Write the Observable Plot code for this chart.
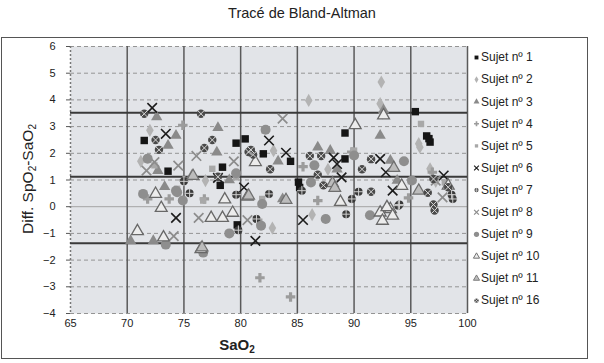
<!DOCTYPE html>
<html><head><meta charset="utf-8">
<script src="https://cdn.jsdelivr.net/npm/d3@7"></script>
<script src="https://cdn.jsdelivr.net/npm/@observablehq/plot@0.6"></script>
<style>
body{margin:0;background:#fff;font-family:"Liberation Sans",Arial,sans-serif;color:#222}
#wrap{position:relative;width:604px;height:363px;overflow:hidden}
#wrap svg{position:absolute;left:0;top:0}
.abs{position:absolute;white-space:nowrap}
#box{left:1px;top:37px;width:585px;height:320px;border:1.5px solid #555}
#title{left:0;width:604px;top:5px;text-align:center;font-size:14.5px}
#ylab{left:28px;top:179px;transform:translate(-50%,-50%) rotate(-90deg);font-size:15.5px}
#xlab{left:237px;top:345px;transform:translate(-50%,-50%);font-size:15px;font-weight:bold}
sub{font-size:10px;vertical-align:-3px}
</style></head>
<body><div id="wrap">
<div id="box" class="abs"></div>
<div id="title" class="abs">Tracé de Bland-Altman</div>
<div id="ylab" class="abs">Diff. SpO<sub>2</sub>-SaO<sub>2</sub></div>
<div id="xlab" class="abs">SaO<sub>2</sub></div>
</div>
<script>
const subjects = ["Sujet nº 1","Sujet nº 2","Sujet nº 3","Sujet nº 4","Sujet nº 5","Sujet nº 6","Sujet nº 7","Sujet nº 8","Sujet nº 9","Sujet nº 10","Sujet nº 11","Sujet nº 16"];
const xTicks = [65,70,75,80,85,90,95,100];
const yTicks = [-4,-3,-2,-1,0,1,2,3,4,5,6];
const meanDiff = 1.12, upperLoA = 3.52, lowerLoA = -1.37;

const sujet1 = [[71.5,2.48],[73.6,1.33],[78.4,1.48],[78.2,0.8],[79.6,2.38],[80.4,2.54],[82.0,1.98],[84.4,1.7],[85.1,0.92],[85.2,0.72],[79.7,-0.68],[89.2,2.76],[89.2,1.79],[95.4,3.56],[96.4,2.65],[96.7,2.42],[96.6,2.55]];
const sujet2 = [[72.0,2.86],[71.2,1.7],[86.0,3.98],[92.4,4.67],[92.3,3.86],[95.7,2.36],[95.8,2.23],[82.9,2.1],[76.9,0.98],[87.7,1.4],[96.7,1.42],[86.3,-0.3],[82.8,-0.8],[97.2,0.95],[92.5,3.5]];
const sujet3 = [[72.6,3.36],[73.6,2.29],[74.3,2.67],[78.0,2.96],[77.9,2.04],[72.7,1.35],[73.3,0.75],[86.8,2.23],[87.9,2.1],[92.3,2.67],[93.2,1.73],[75.7,1.17],[83.3,1.7],[88.5,1.4],[93.8,0.98],[70.3,-1.28],[72.3,-1.28],[83.7,0.29],[79.0,1.0],[92.6,3.62]];
const sujet4 = [[74.9,3.05],[71.8,0.29],[73.7,0.29],[76.8,0.29],[75.0,0.98],[85.5,1.5],[86.8,0.23],[81.5,-0.5],[81.7,-2.66],[84.4,-3.38],[94.8,0.33],[89.8,2.05],[96.9,1.29]];
const sujet5 = [[72.4,1.55],[77.5,1.42],[82.1,2.86],[86.5,1.5],[79.6,1.1],[81.9,0.29],[81.8,0.1],[87.5,-0.43],[95.9,3.1],[95.0,0.95],[74.4,0.67],[90.0,2.1],[98.0,0.91],[76.7,0.23]];
const sujet6 = [[72.2,3.7],[73.4,2.73],[74.3,-0.42],[82.5,2.48],[80.3,0.72],[78.0,1.08],[84.0,2.02],[88.2,1.84],[88.5,1.6],[88.9,1.1],[92.3,1.79],[92.8,1.29],[93.4,0.6],[85.5,-0.5],[81.3,-1.28],[97.9,1.17]];
const sujet7 = [[75.5,0.5],[79.6,0.45],[79.8,-0.88],[82.5,0.48],[85.4,0.6],[89.3,-0.28],[89.8,0.29],[90.4,0.56],[94.0,0.08],[98.6,0.45],[98.7,0.29],[81.4,-0.46],[93.9,0.04],[75.0,0.95]];
const sujet8 = [[72.4,1.67],[74.5,1.54],[74.1,-1.1],[76.1,1.9],[79.4,1.7],[76.3,-0.42],[80.6,-0.5],[83.7,3.3],[97.8,0.35],[97.2,0.98],[71.7,1.35]];
const sujet9 = [[71.4,0.48],[74.3,0.6],[74.4,0.54],[74.9,0.23],[73.4,-1.42],[76.7,-1.72],[79.0,-1.0],[79.6,1.25],[81.9,0.1],[81.8,-0.71],[86.2,0.91],[87.5,-0.46],[91.4,-0.32],[94.4,1.7],[95.1,0.98],[82.2,2.88],[90.0,1.92],[86.5,1.55],[71.8,1.8]];
const sujet10 = [[72.5,0.48],[73.0,-0.05],[70.9,-0.92],[73.2,-1.15],[76.5,-1.59],[77.4,-0.42],[78.4,-0.42],[79.3,-0.23],[78.6,0.27],[80.6,0.38],[81.3,1.67],[88.8,0.18],[90.1,3.05],[92.6,3.42],[92.3,-0.22],[92.5,-0.53],[93.2,-0.09],[92.9,-0.02],[93.4,-0.34],[94.2,0.78],[98.3,0.79]];
const sujet11 = [[88.1,0.88],[88.3,0.7],[93.5,1.45],[95.7,0.6],[75.8,1.15],[80.7,0.41],[84.0,0.25],[76.6,-1.53]];
const sujet16 = [[71.5,3.48],[72.5,2.5],[72.8,2.13],[76.5,3.48],[77.5,2.5],[76.8,2.2],[80.9,2.13],[81.1,1.95],[82.6,1.4],[86.1,1.9],[87.1,1.9],[86.8,1.2],[87.3,0.8],[90.7,1.4],[91.5,1.78],[91.5,0.56],[96.5,0.52],[97.0,0.08],[97.1,-0.14],[97.0,1.04],[98.3,0.73],[78.0,1.12],[80.7,2.05]];

const series = [sujet1,sujet2,sujet3,sujet4,sujet5,sujet6,sujet7,sujet8,sujet9,sujet10,sujet11,sujet16];
const styles = [
  {symbol:"square", fill:"#151515", r:4.2},
  {symbol:"diamond", fill:"#b3b3b3", r:4},
  {symbol:"triangle", fill:"#8a8a8a", r:4.2},
  {symbol:"cross", fill:"#9c9c9c", r:4},
  {symbol:"square", fill:"#a8a8a8", r:3.6},
  {symbol:"times", stroke:"#1c1c1c", sw:1.6, r:4.4},
  {symbol:"circle", fill:"#3a3a3a", r:4, over:{symbol:"plus", stroke:"#cfcfcf", sw:1, r:3.2}},
  {symbol:"times", stroke:"#8c8c8c", sw:1.7, r:4.4},
  {symbol:"circle", fill:"#8e8e8e", r:5},
  {symbol:"triangle", fill:"#ececec", stroke:"#686868", sw:1.3, r:4.4},
  {symbol:"triangle", fill:"#bcbcbc", stroke:"#6e6e6e", sw:1.2, r:4.4},
  {symbol:"circle", fill:"#4a4a4a", r:4.2, over:{symbol:"times", stroke:"#d8d8d8", sw:1, r:3}}
];

function dotMarks(data, st, k, xf, yf) {
  const m = [Plot.dot(data, {x: xf, y: yf, symbol: st.symbol, r: st.r*k,
    fill: st.fill || "none", stroke: st.stroke || "none", strokeWidth: (st.sw || 1) * Math.min(1, k + 0.2)})];
  if (st.over) m.push(Plot.dot(data, {x: xf, y: yf, symbol: st.over.symbol, r: st.over.r*k,
    fill: "none", stroke: st.over.stroke, strokeWidth: st.over.sw * Math.min(1, k + 0.2)}));
  return m;
}

const xGrid = xTicks.filter(d => d > 65);
const yGrid = yTicks.filter(d => d !== 0);

const chart = Plot.plot({
  width: 604, height: 363,
  marginLeft: 70, marginRight: 137, marginTop: 46, marginBottom: 50,
  style: {fontFamily: "Liberation Sans, Arial, sans-serif", fontSize: "11px", color: "#222", background: "transparent"},
  x: {domain: [65, 100]},
  y: {domain: [-4, 6]},
  marks: [
    Plot.frame({fill: "#e2e4e8", stroke: null}),
    Plot.ruleY(yGrid, {stroke: "#949494", strokeDasharray: "4,3", strokeWidth: 1}),
    Plot.ruleY([0], {stroke: "#a4a4a4", strokeWidth: 1}),
    Plot.ruleX(xGrid, {stroke: "#5a5a5a", strokeWidth: 1.5}),
    Plot.ruleX([65], {stroke: "#777", strokeDasharray: "2,2", strokeWidth: 1.5}),
    Plot.ruleY([upperLoA, meanDiff, lowerLoA], {stroke: "#3a3a3a", strokeWidth: 2}),
    Plot.axisY({ticks: yTicks, tickSize: 4, tickPadding: 11, fontSize: 11, stroke: "#555", label: null}),
    Plot.axisX({ticks: xTicks, tickSize: 0, tickPadding: 6, fontSize: 11, label: null}),
    ...series.flatMap((s, i) => dotMarks(s, styles[i], 1, d => d[0], d => d[1]))
  ]
});
document.getElementById("wrap").appendChild(chart);

const legendRows = subjects.map((name, i) => ({name, i}));
const legend = Plot.plot({
  width: 110, height: 270,
  margin: 0,
  style: {fontFamily: "Liberation Sans, Arial, sans-serif", fontSize: "12px", color: "#222", background: "transparent"},
  x: {domain: [0, 1], range: [7, 110], axis: null},
  y: {domain: [0, subjects.length - 1], range: [11, 11 + 22.1 * (subjects.length - 1)], axis: null},
  marks: [
    ...legendRows.flatMap(row => dotMarks([row], styles[row.i], 0.52, () => 0, d => d.i)),
    Plot.text(legendRows, {x: () => 0, y: "i", text: "name", dx: 4.5, textAnchor: "start", fill: "#222", fontSize: 12})
  ]
});
legend.style.left = "469px"; legend.style.top = "46px";
document.getElementById("wrap").appendChild(legend);
</script>
</body></html>
